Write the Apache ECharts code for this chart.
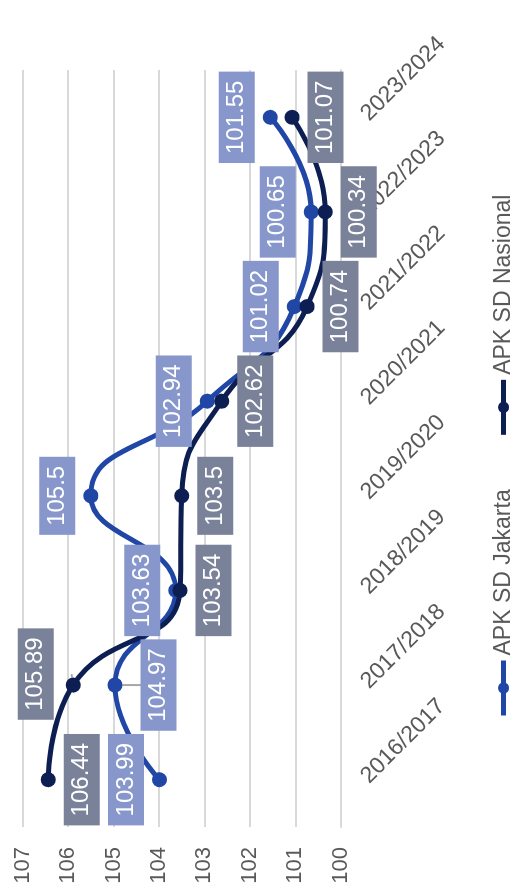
<!DOCTYPE html>
<html>
<head>
<meta charset="utf-8">
<script src="https://cdn.jsdelivr.net/npm/echarts@6/dist/echarts.min.js"></script>
<style>
html, body { margin: 0; padding: 0; background: #fff; overflow: hidden; }
body { width: 510px; height: 890px; position: relative; }
/* chart is drawn landscape, then turned a quarter left */
#main { position: absolute; left: 0; top: 0; width: 890px; height: 510px;
        transform-origin: 0 0; transform: translate(0, 890px) rotate(-90deg); }
</style>
</head>
<body>
<div id="main"></div>
<script>
var categories = ['2016/2017', '2017/2018', '2018/2019', '2019/2020', '2020/2021', '2021/2022', '2022/2023', '2023/2024'];
var jakarta = [103.99, 104.97, 103.63, 105.5, 102.94, 101.02, 100.65, 101.55];
var nasional = [106.44, 105.89, 103.54, 103.5, 102.62, 100.74, 100.34, 101.07];
var seriesNames = ['APK SD Jakarta', 'APK SD Nasional'];

// where each value label sits
var jakartaPos = ['top', 'bottom', 'top', 'top', 'top', 'top', 'top', 'top'];
var nasionalPos = ['bottom', 'top', 'bottom', 'bottom', 'bottom', 'bottom', 'bottom', 'bottom'];

var FONT = '"Liberation Sans", Arial, sans-serif';

function buildData(values, pos, moved) {
    return values.map(function(v, i) {
        var item = { value: v, label: { position: pos[i] } };
        if (i === moved.index) {
            item.label.distance = moved.distance;
            item.label.offset = moved.offset;
            item.labelLine = { show: true, lineStyle: { color: '#a6a6a6', width: 2 } };
        }
        return item;
    });
}

function labelStyle(bg) {
    return {
        show: true,
        color: '#fff',
        fontFamily: FONT,
        fontSize: 24,
        lineHeight: 24,
        backgroundColor: bg,
        padding: [6, 9],
        distance: 8
    };
}

var myChart = echarts.init(document.getElementById('main'));
var option = {
    animation: false,
    textStyle: { fontFamily: FONT },
    grid: { left: 63, right: 70, top: 22.7, bottom: 169.3 },
    legend: {
        data: seriesNames,
        top: 487,
        left: 167,
        itemWidth: 55,
        itemHeight: 14,
        itemGap: 52,
        lineStyle: { width: 5 },
        textStyle: { color: '#595959', fontSize: 23, fontFamily: FONT }
    },
    xAxis: {
        type: 'category',
        data: categories,
        boundaryGap: true,
        axisLine: { show: true, lineStyle: { color: '#d9d9d9', width: 2 } },
        axisTick: { show: false },
        axisLabel: { rotate: -45, margin: 24, color: '#595959', fontSize: 23, fontFamily: FONT }
    },
    yAxis: {
        type: 'value',
        min: 100,
        max: 107,
        interval: 1,
        axisLine: { show: false },
        axisTick: { show: false },
        axisLabel: { margin: 20, color: '#595959', fontSize: 22, fontFamily: FONT },
        splitLine: { lineStyle: { color: '#d9d9d9', width: 2 } }
    },
    series: [{
        name: seriesNames[0],
        type: 'line',
        smooth: 0.5,
        symbol: 'circle',
        symbolSize: 15,
        color: '#2147a6',
        lineStyle: { width: 5 },
        label: labelStyle('#8797cc'),
        data: buildData(jakarta, jakartaPos, { index: 1, distance: 18, offset: [0, 0] })
    }, {
        name: seriesNames[1],
        type: 'line',
        smooth: 0.5,
        symbol: 'circle',
        symbolSize: 15,
        color: '#0d1e52',
        lineStyle: { width: 5 },
        label: labelStyle('#7a8299'),
        data: buildData(nasional, nasionalPos, { index: 1, distance: 12, offset: [11, 0] })
    }]
};
myChart.setOption(option);
</script>
</body>
</html>
